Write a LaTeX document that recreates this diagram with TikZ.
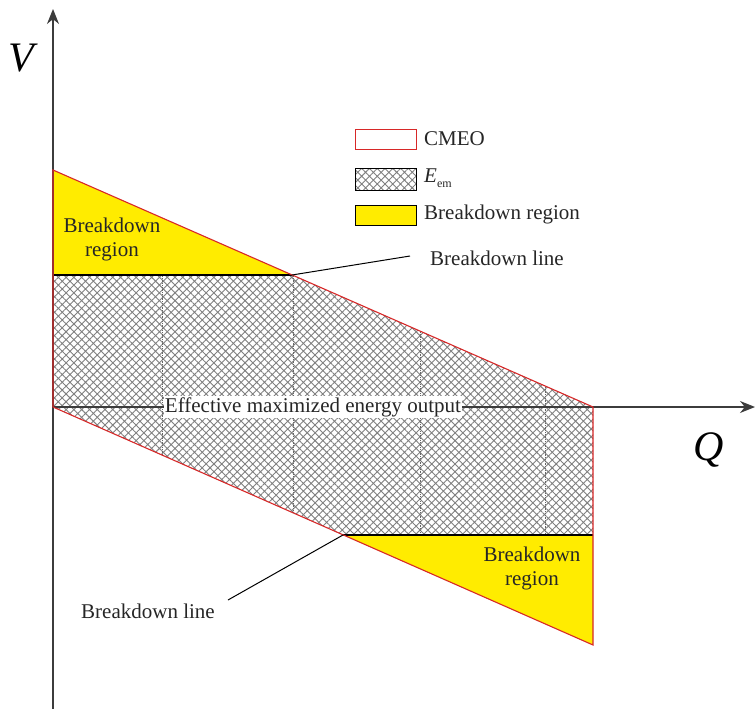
\documentclass[tikz,border=0pt]{standalone}
\usepackage{fontspec}
\setmainfont{Liberation Serif}
\usetikzlibrary{patterns.meta,arrows.meta}
\definecolor{cmeored}{RGB}{215,40,40}
\definecolor{bdyellow}{RGB}{255,236,0}
\definecolor{axisgray}{RGB}{60,60,60}
\tikzset{
  lbl/.style={font=\fontsize{21}{25}\selectfont, inner sep=1pt, align=center, text=black!85},
  hatchfill/.style={pattern={Hatch[angle=45,distance=5.5pt,line width=0.9pt]}, pattern color=black!50},
  yellowfill/.style={fill=bdyellow},
  bdline/.style={black, line width=1.2pt},
  cmeo/.style={cmeored, line width=1.1pt, line join=miter},
  axisline/.style={axisgray, line width=1.4pt, -{Stealth[length=15pt,width=12pt]}},
  leader/.style={black, line width=1pt},
  vband/.style={black!60, line width=0.8pt, densely dotted},
  legbox/.style={line width=1pt}
}
\begin{document}
\begin{tikzpicture}[x=1pt,y=-1pt]
\useasboundingbox (0,0) rectangle (755,709);
% key points
\coordinate (TL) at (53,170);
\coordinate (O) at (53,407);
\coordinate (BR) at (593,645);
\coordinate (RT) at (593,407);
\coordinate (B1L) at (53,275);
\coordinate (B1R) at (292,275);
\coordinate (B2L) at (343,535);
\coordinate (B2R) at (593,535);
% hatched region
\fill[white] (B1L) -- (B1R) -- (RT) -- (B2R) -- (B2L) -- (O) -- cycle;
\fill[hatchfill] (B1L) -- (B1R) -- (RT) -- (B2R) -- (B2L) -- (O) -- cycle;
\draw[vband] (162,276) -- (162,455);
\draw[vband] (293,276) -- (293,513);
\draw[vband] (420,332) -- (420,534);
\draw[vband] (545,387) -- (545,534);
% breakdown regions
\fill[yellowfill] (TL) -- (B1L) -- (B1R) -- cycle;
\fill[yellowfill] (B2L) -- (B2R) -- (BR) -- cycle;
\draw[bdline] (B1L) -- (B1R);
\draw[bdline] (B2L) -- (B2R);
% axes
\coordinate (ybot) at (53,709);
\coordinate (ytop) at (53,9);
\coordinate (xend) at (755,407);
\draw[axisline] (ybot) -- (ytop);
\draw[axisline] (O) -- (xend);
% CMEO outline
\draw[cmeo] (TL) -- (RT) -- (BR) -- (O) -- cycle;
% axis labels
\node[font=\fontsize{42}{46}\selectfont\itshape] (V) at (21,58) {V};
\node[font=\fontsize{42}{46}\selectfont\itshape] (Q) at (709,450) {Q};
% effective label
\node[lbl, fill=white] (eff) at (313,407) {Effective maximized energy output};
% breakdown region labels
\node[lbl] (bdr1) at (112,239) {Breakdown\\[-1pt]region};
\node[lbl] (bdr2) at (532,568) {Breakdown\\[-1pt]region};
% breakdown line labels
\node[lbl] (bl1) at (497,258) {Breakdown line};
\node[lbl] (bl2) at (148,611) {Breakdown line};
\coordinate (bl1end) at (410,256);
\coordinate (bl2end) at (228,600);
\draw[leader] (B1R) -- (bl1end);
\draw[leader] (B2L) -- (bl2end);
% legend
\draw[legbox, cmeored, fill=white] (355,129) rectangle (416,149);
\node[lbl, anchor=west] (lg1) at (423,139) {CMEO};
\fill[white] (355,168) rectangle (416,190);
\fill[hatchfill] (355,168) rectangle (416,190);
\draw[legbox, black] (355,168) rectangle (416,190);
\node[lbl, anchor=west] (lg2) at (423,178) {\textit{E}\raisebox{-5pt}{\fontsize{12}{14}\selectfont em}};
\draw[legbox, black, fill=bdyellow] (355,205) rectangle (416,225);
\node[lbl, anchor=west] (lg3) at (423,214) {Breakdown region};
\end{tikzpicture}
\end{document}
